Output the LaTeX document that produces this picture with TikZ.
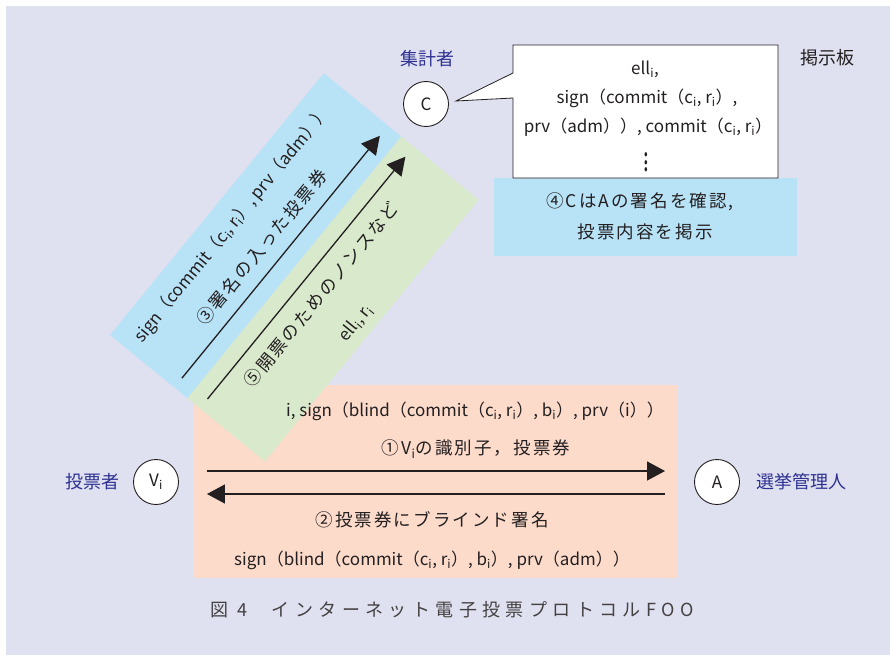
\documentclass[tikz,border=0pt]{standalone}
\usepackage{fontspec}
\setmainfont{Noto Sans CJK JP}
\newfontfamily\jsp[LetterSpace=12]{Noto Sans CJK JP}
\newfontfamily\capf[LetterSpace=30]{Noto Sans CJK JP}
\usetikzlibrary{arrows.meta,calc}
\definecolor{bglav}{RGB}{223,224,240}
\definecolor{stripblue}{RGB}{184,227,247}
\definecolor{stripgreen}{RGB}{217,233,204}
\definecolor{salmon}{RGB}{253,219,203}
\definecolor{inkdark}{RGB}{35,31,32}
\definecolor{labelblue}{RGB}{46,49,146}
\newcommand\ssb[1]{\textsubscript{#1}}
\tikzset{
  arr/.style={draw=inkdark, line width=1.3pt, -{Triangle[length=18pt,width=19pt]}},
  circ/.style={circle, draw=inkdark, line width=0.9pt, fill=white, minimum size=45pt, inner sep=0pt, text=inkdark, font=\fontsize{17}{17}\selectfont},
  lat/.style={text=inkdark, inner sep=0pt, font=\fontsize{17}{17}\selectfont},
  jtx/.style={text=inkdark, inner sep=0pt, font=\jsp\fontsize{17.5}{17.5}\selectfont},
  bluelbl/.style={text=labelblue, inner sep=0pt, font=\fontsize{18}{18}\selectfont},
}
\begin{document}
\begin{tikzpicture}[x=1pt,y=-1pt]
\useasboundingbox (0,0) rectangle (890,655);
\fill[white] (0,0) rectangle (890,655);
\fill[bglav] (6,6) rectangle (890,655);
% salmon panel
\fill[salmon] (193,385) rectangle (678,578);
% diagonal strips
\begin{scope}[shift={(110,335)}, rotate=50.76]
  \fill[stripblue] (0,0) rectangle (338,100);
  \fill[stripgreen] (0,100) rectangle (338,200);
  \coordinate (b1) at (12,83);
  \coordinate (b2) at (325,83);
  \coordinate (g1) at (12,116);
  \coordinate (g2) at (325,116);
  \draw[arr] (b1) -- (b2);
  \draw[arr] (g1) -- (g2);
  \node[lat, transform shape] (s3a) at (163,25) {sign（commit（c\ssb{i}, r\ssb{i}）, prv（adm））};
  \node[jtx, transform shape] (s3b) at (164,62) {③署名の入った投票券};
  \node[jtx, transform shape] (s5a) at (165,138) {⑤開票のためのノンスなど};
  \node[lat, transform shape] (s5b) at (165,183) {ell\ssb{i}, r\ssb{i}};
\end{scope}
% board
\fill[stripblue] (494,178) rectangle (797,256);
\draw[inkdark, line width=0.8pt, fill=white] (513,45) -- (778,45) -- (778,178) -- (513,178) -- (513,98) -- (456,101) -- (513,73) -- cycle;
\node[lat] (bd1) at (645,69) {ell\ssb{i},};
\node[lat] (bd2) at (647,98) {sign（commit（c\ssb{i}, r\ssb{i}）,};
\node[lat] (bd3) at (648,127) {prv（adm））, commit（c\ssb{i}, r\ssb{i}）};
\node[lat] (bd4) at (646,157) {\scalebox{1.2}[1.8]{$\vdots$}};
\node[jtx] (c4a) at (640,202) {④CはAの署名を確認,};
\node[jtx] (c4b) at (645,232) {投票内容を掲示};
% labels
\node[bluelbl] (lc) at (427,59) {集計者};
\node[jtx, font=\fontsize{18}{18}\selectfont] (lb) at (827,58) {掲示板};
\node[bluelbl] (lv) at (92,482) {投票者};
\node[bluelbl] (la) at (801,482) {選挙管理人};
% nodes
\node[circ] (C) at (426,104) {C};
\node[circ] (V) at (156,482) {V\ssb{i}};
\node[circ] (A) at (717,482) {A};
% horizontal arrows
\draw[arr] ($(V.east)+(28,-11)$) -- ($(A.west)+(-29,-11)$);
\draw[arr] ($(A.west)+(-29,12)$) -- ($(V.east)+(28,12)$);
% salmon texts
\node[lat] (m1) at (475,411) {i, sign（blind（commit（c\ssb{i}, r\ssb{i}）, b\ssb{i}）, prv（i））};
\node[jtx] (m2) at (476,449) {①V\ssb{i}の識別子，投票券};
\node[jtx] (m3) at (432,520) {②投票券にブラインド署名};
\node[lat] (m4) at (432,560) {sign（blind（commit（c\ssb{i}, r\ssb{i}）, b\ssb{i}）, prv（adm））};
% caption
\node[text=inkdark!85, inner sep=0pt, font=\capf\fontsize{18}{18}\selectfont] (cap) at (452,610) {図 4\hspace{24pt}インターネット電子投票プロトコルFOO};
\end{tikzpicture}
\end{document}
